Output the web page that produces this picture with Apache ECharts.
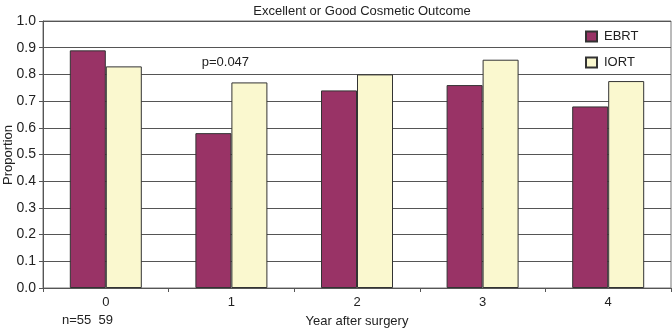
<!DOCTYPE html>
<html><head><meta charset="utf-8">
<script src="https://cdn.jsdelivr.net/npm/echarts@6/dist/echarts.min.js"></script>
<style>html,body{margin:0;padding:0;background:#fff}#c{width:672px;height:328px}</style>
</head><body><div id="c"></div>
<script>
const categories = ['0','1','2','3','4'];
const ebrt = [0.89, 0.58, 0.74, 0.76, 0.68];
const iort = [0.83, 0.77, 0.80, 0.855, 0.775];
const yTicks = [0,0.1,0.2,0.3,0.4,0.5,0.6,0.7,0.8,0.9,1.0];
const titleText = 'Excellent or Good Cosmetic Outcome';
const yName = 'Proportion';
const pText = 'p=0.047';
const nText = 'n=55  59';

const font = 'Liberation Sans, Arial, sans-serif';
const chart = echarts.init(document.getElementById('c'));
chart.setOption({
  animation: false,
  textStyle: {fontFamily: font},
  title: {text: titleText, left: 357, textAlign: 'center', top: 0,
    textStyle: {fontFamily: font, fontSize: 13, fontWeight: 'normal', color: '#222'}},
  legend: {orient: 'vertical', left: 580, top: 25, itemWidth: 11, itemHeight: 10, itemGap: 13,
    icon: 'rect',
    textStyle: {fontFamily: font, fontSize: 13, color: '#222', padding: [0,0,0,2]},
    data: ['EBRT','IORT']},
  grid: {left: 43, right: 1, top: 21, bottom: 40, show: true, borderColor: '#777', borderWidth: 1,
    outerBoundsMode: 'none', containLabel: false},
  xAxis: {type: 'category', data: categories,
    name: 'Year after surgery', nameLocation: 'middle', nameGap: 27,
    nameTextStyle: {fontFamily: font, fontSize: 13, color: '#222'},
    axisLine: {lineStyle: {color: '#555'}},
    axisTick: {show: true, length: 4, lineStyle: {color: '#555'}},
    axisLabel: {fontFamily: font, fontSize: 13, color: '#222', margin: 8}},
  yAxis: {type: 'value', min: 0, max: 1, interval: 0.1,
    axisLine: {show: true, lineStyle: {color: '#555'}},
    axisTick: {show: true, length: 4, lineStyle: {color: '#555'}},
    axisLabel: {fontFamily: font, fontSize: 14, color: '#222', margin: 7,
      formatter: v => yTicks.includes(+v.toFixed(1)) ? v.toFixed(1) : ''},
    splitLine: {show: true, lineStyle: {color: '#555', width: 1}}},
  series: [
    {name: 'EBRT', type: 'bar', data: ebrt, barWidth: 36, barGap: '0%',
      itemStyle: {color: '#993366', borderColor: '#333', borderWidth: 1},
      markPoint: {symbol: 'circle', symbolSize: 0, silent: true,
        data: [{coord: ['1', 0.843], value: pText}],
        label: {show: true, formatter: pText, offset: [12, 0], fontFamily: font, fontSize: 13, color: '#222'}}},
    {name: 'IORT', type: 'bar', data: iort, barWidth: 36,
      itemStyle: {color: '#FAF8CF', borderColor: '#333', borderWidth: 1}}
  ],
  graphic: [
    {type: 'text', left: 62, top: 314,
      style: {text: nText, fontFamily: font, fontSize: 13, fill: '#222'}},
    {type: 'text', x: 8, y: 155, rotation: Math.PI / 2,
      style: {text: yName, fontFamily: font, fontSize: 13, fill: '#222', align: 'center', verticalAlign: 'middle'}}
  ]
});
</script></body></html>
